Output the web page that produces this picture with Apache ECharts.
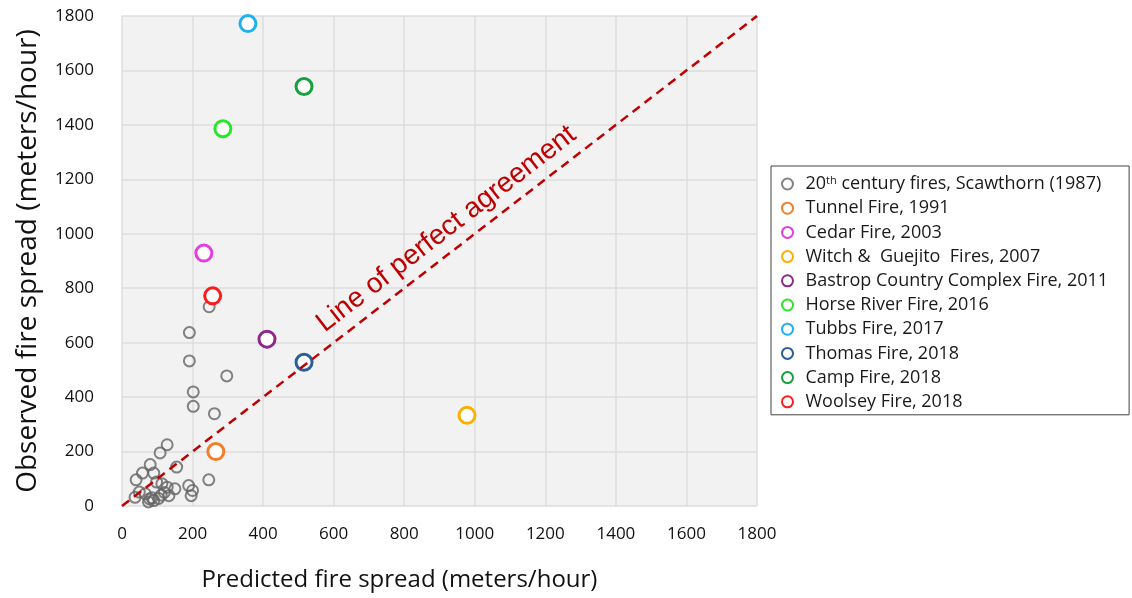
<!DOCTYPE html>
<html>
<head>
<meta charset="utf-8">
<script src="https://cdn.jsdelivr.net/npm/echarts@6/dist/echarts.min.js"></script>
<style>
  html, body { margin: 0; padding: 0; background: #ffffff; }
  #chart { width: 1132px; height: 598px; }
</style>
</head>
<body>
<div id="chart"></div>
<script>
// Axis ticks shared by both axes (meters/hour)
const axisTicks = [0, 200, 400, 600, 800, 1000, 1200, 1400, 1600, 1800];

// 20th-century fires compiled by Scawthorn (1987)
const scawthornName = '20th century fires, Scawthorn (1987)';
const scawthornPredicted = [247, 191, 191, 297, 202, 202, 262, 128, 108, 80, 58, 90, 40, 155, 246, 189, 200, 196, 150, 128, 113, 98, 49, 37, 66, 78, 90, 104, 111, 133, 75, 85, 120];
const scawthornObserved  = [732, 637, 533, 478, 419, 366, 339, 225, 195, 152, 121, 121, 96, 143, 96, 75, 57, 38, 63, 69, 82, 88, 51, 32, 45, 26, 20, 28, 40, 38, 15, 30, 50];

// Recent wildland-urban interface fires
const fireNames = [
  'Tunnel Fire, 1991',
  'Cedar Fire, 2003',
  'Witch &  Guejito  Fires, 2007',
  'Bastrop Country Complex Fire, 2011',
  'Horse River Fire, 2016',
  'Tubbs Fire, 2017',
  'Thomas Fire, 2018',
  'Camp Fire, 2018',
  'Woolsey Fire, 2018'
];
const firePredicted = [266, 232, 978, 411, 286, 357, 516, 516, 257];
const fireObserved  = [200, 929, 333, 613, 1386, 1772, 528, 1541, 772];
const fireColors = ['#f07f2c', '#e23fde', '#fbb000', '#8c2a8c', '#28e62c', '#1fb1ef', '#2a609a', '#16a03e', '#fe1a1a'];

const agreementLabel = 'Line of perfect agreement';

const chart = echarts.init(document.getElementById('chart'));

const textFont = "'Open Sans', sans-serif";

const series = [];

series.push({
  name: scawthornName,
  type: 'scatter',
  z: 2,
  symbol: 'circle',
  symbolSize: 11,
  itemStyle: { color: 'rgba(255,255,255,0)', borderColor: 'rgba(100,100,100,0.8)', borderWidth: 2, opacity: 1 },
  data: scawthornPredicted.map((x, i) => [x, scawthornObserved[i]])
});

// 1:1 reference line
series.push({
  name: agreementLabel,
  type: 'scatter',
  z: 3,
  data: [],
  markLine: {
    silent: true,
    symbol: 'none',
    animation: false,
    lineStyle: { color: '#c00000', type: [9, 6], width: 2.5 },
    label: {
      show: true,
      position: 'insideMiddleTop',
      formatter: agreementLabel,
      color: '#c00000',
      fontFamily: "'Liberation Sans', Arial, sans-serif",
      fontSize: 28,
      distance: 7,
      padding: [0, 0, 0, 50]
    },
    data: [[
      { coord: [axisTicks[0], axisTicks[0]] },
      { coord: [axisTicks[axisTicks.length - 1], axisTicks[axisTicks.length - 1]] }
    ]]
  }
});

fireNames.forEach((name, i) => {
  series.push({
    name: name,
    type: 'scatter',
    z: 4,
    symbol: 'circle',
    symbolSize: 16,
    itemStyle: { color: '#ffffff', borderColor: fireColors[i], borderWidth: 3, opacity: 1 },
    data: [[firePredicted[i], fireObserved[i]]]
  });
});

chart.setOption({
  animation: false,
  backgroundColor: '#ffffff',
  grid: {
    left: 122, right: 375, top: 16, bottom: 92,
    show: true, backgroundColor: '#f2f2f2', borderWidth: 0
  },
  legend: {
    orient: 'vertical',
    left: 771, top: 166,
    data: [scawthornName].concat(fireNames),
    backgroundColor: '#ffffff',
    borderColor: '#444444',
    borderWidth: 1,
    borderRadius: 0,
    padding: [9, 21, 4, 10],
    itemWidth: 26,
    itemHeight: 11,
    itemGap: 6.2,
    itemStyle: { borderWidth: 2, opacity: 1 },
    selectedMode: false,
    textStyle: {
      fontFamily: textFont,
      fontSize: 18,
      lineHeight: 18,
      color: '#1a1a1a',
      rich: {
        sup: { fontFamily: textFont, fontSize: 11, verticalAlign: 'top', lineHeight: 18, color: '#1a1a1a', padding: [0, 0, 7, 0] }
      }
    },
    formatter: function (name) {
      return name === scawthornName ? '20{sup|th} century fires, Scawthorn (1987)' : name;
    }
  },
  xAxis: {
    type: 'value',
    min: axisTicks[0],
    max: axisTicks[axisTicks.length - 1],
    interval: axisTicks[1] - axisTicks[0],
    name: 'Predicted fire spread (meters/hour)',
    nameLocation: 'middle',
    nameGap: 62,
    nameTextStyle: { fontFamily: textFont, fontSize: 24, color: '#111', padding: [0, 80, 0, 0] },
    axisLine: { show: false },
    axisTick: { show: false },
    axisLabel: { margin: 20, fontFamily: textFont, fontSize: 17, color: '#111', formatter: v => String(v) },
    splitLine: { lineStyle: { color: '#dcdcdc', width: 1.5 } }
  },
  yAxis: {
    type: 'value',
    min: axisTicks[0],
    max: axisTicks[axisTicks.length - 1],
    interval: axisTicks[1] - axisTicks[0],
    name: 'Observed fire spread (meters/hour)',
    nameLocation: 'middle',
    nameGap: 80,
    nameTextStyle: { fontFamily: textFont, fontSize: 28, color: '#111' },
    axisLine: { show: false },
    axisTick: { show: false },
    axisLabel: { margin: 28, fontFamily: textFont, fontSize: 17, color: '#111', formatter: v => String(v) },
    splitLine: { lineStyle: { color: '#dcdcdc', width: 1.5 } }
  },
  series: series
});
</script>
</body>
</html>
